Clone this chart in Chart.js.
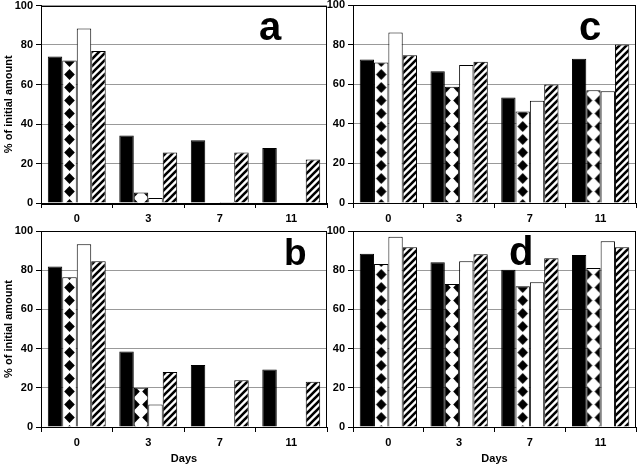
<!DOCTYPE html>
<html lang="en">
<head>
    <meta charset="UTF-8">
    <title>% of initial amount vs Days</title>
    <script src="https://cdn.jsdelivr.net/npm/chart.js@4.4.0/dist/chart.umd.min.js"></script>
    <style>
        body {
            margin: 0;
            width: 642px;
            height: 468px;
            background: #fff;
            position: relative;
            overflow: hidden;
            font-family: "Liberation Sans", Arial, sans-serif;
        }
        .panel {
            position: absolute;
        }
        .letter {
            position: absolute;
            font-weight: bold;
            line-height: 40px;
            color: #000;
        }
    </style>
</head>
<body>
    <div class="panel" style="left:0; top:-10px; width:335px; height:240px;"><canvas id="chartA"></canvas></div>
    <div class="panel" style="left:325px; top:-10px; width:317px; height:240px;"><canvas id="chartC"></canvas></div>
    <div class="panel" style="left:0; top:216px; width:335px; height:252px;"><canvas id="chartB"></canvas></div>
    <div class="panel" style="left:325px; top:216px; width:317px; height:252px;"><canvas id="chartD"></canvas></div>

    <div class="letter" style="left:259px; top:6px; font-size:40px;">a</div>
    <div class="letter" style="left:579px; top:6px; font-size:40px;">c</div>
    <div class="letter" style="left:284px; top:233px; font-size:37px;">b</div>
    <div class="letter" style="left:509px; top:231px; font-size:40px;">d</div>

    <script>
        // Datos (% of initial amount)
        const days = ['0', '3', '7', '11'];
        const yTicks = [0, 20, 40, 60, 80, 100];

        // panel a
        const aSolid = [74.2, 34.2, 31.8, 27.9];
        const aDiamond = [72.1, 5.3, 0, 0];
        const aOpen = [88.3, 2.5, 0.5, 0];
        const aHatch = [77.0, 25.6, 25.6, 22.0];

        // panel b
        const bSolid = [81.9, 38.5, 31.6, 29.4];
        const bDiamond = [76.4, 20.0, 0, 0];
        const bOpen = [93.3, 11.5, 0, 0];
        const bHatch = [84.6, 28.0, 23.8, 23.1];

        // panel c
        const cSolid = [72.5, 66.5, 53.3, 72.9];
        const cDiamond = [70.9, 58.7, 46.2, 57.0];
        const cOpen = [86.1, 69.7, 51.6, 56.5];
        const cHatch = [74.6, 71.3, 59.9, 80.0];

        // panel d
        const dSolid = [88.4, 84.1, 80.2, 87.7];
        const dDiamond = [83.1, 73.0, 71.8, 81.1];
        const dOpen = [97.1, 84.6, 73.8, 94.8];
        const dHatch = [91.7, 88.2, 86.1, 91.7];

        // Patrones de relleno
        function diamondPattern(shift, sx) {
            const w = 13, h = 13;
            const c = document.createElement('canvas');
            c.width = w; c.height = h;
            const g = c.getContext('2d');
            g.fillStyle = '#fff';
            g.fillRect(0, 0, w, h);
            g.fillStyle = '#000';
            const cx = w / 2, cy = h / 2;
            g.beginPath();
            g.moveTo(cx, cy - 5.4);
            g.lineTo(cx + 5.3, cy);
            g.lineTo(cx, cy + 5.4);
            g.lineTo(cx - 5.3, cy);
            g.closePath();
            g.fill();
            const p = g.createPattern(c, 'repeat');
            if (p.setTransform) p.setTransform(new DOMMatrix().translate(shift, 0).scale(sx, 1));
            return p;
        }

        function hatchPattern() {
            const s = 7;
            const c = document.createElement('canvas');
            c.width = s; c.height = s;
            const g = c.getContext('2d');
            g.fillStyle = '#fff';
            g.fillRect(0, 0, s, s);
            g.strokeStyle = '#000';
            g.lineWidth = 2.6;
            g.beginPath();
            g.moveTo(-1, s + 1); g.lineTo(s + 1, -1);
            g.moveTo(-1, 1); g.lineTo(1, -1);
            g.moveTo(s - 1, s + 1); g.lineTo(s + 1, s - 1);
            g.stroke();
            return g.createPattern(c, 'repeat');
        }

        const fontTicks = { family: '"Liberation Sans", Arial, sans-serif', size: 11, weight: 'bold' };

        // Marco del area del grafico
        const framePlugin = {
            id: 'frame',
            afterDraw(chart) {
                const a = chart.chartArea;
                const ctx = chart.ctx;
                ctx.save();
                ctx.strokeStyle = '#000';
                ctx.lineWidth = 1;
                ctx.strokeRect(Math.round(a.left) + 0.5, Math.round(a.top) + 0.5,
                    Math.round(a.right - a.left) - 1, Math.round(a.bottom - a.top));
                ctx.restore();
            }
        };

        function makeChart(id, solid, diamond, open, hatch, opt) {
            const ctx = document.getElementById(id).getContext('2d');
            const common = { borderColor: '#000', borderWidth: 1, categoryPercentage: 0.81, barPercentage: 1.0 };
            return new Chart(ctx, {
                type: 'bar',
                data: {
                    labels: days,
                    datasets: [
                        Object.assign({ label: 'solid', data: solid, backgroundColor: '#000' }, common),
                        Object.assign({ label: 'diamond', data: diamond, backgroundColor: diamondPattern(opt.shift, opt.sx) }, common),
                        Object.assign({ label: 'open', data: open, backgroundColor: '#fff' }, common),
                        Object.assign({ label: 'hatch', data: hatch, backgroundColor: hatchPattern() }, common)
                    ]
                },
                options: {
                    responsive: true,
                    maintainAspectRatio: false,
                    animation: false,
                    events: [],
                    layout: { padding: { left: 0, right: opt.padRight, top: opt.padTop, bottom: 0 } },
                    scales: {
                        x: {
                            offset: true,
                            grid: { drawOnChartArea: false, drawTicks: true, tickLength: 5, offset: true, tickColor: '#000' },
                            border: { color: '#000' },
                            ticks: { color: '#000', font: fontTicks, padding: 4, maxRotation: 0 },
                            title: {
                                display: opt.showDays,
                                text: 'Days',
                                color: '#000',
                                font: fontTicks,
                                padding: { top: 2, bottom: 2 }
                            },
                            afterFit(scale) { scale.height = opt.xHeight; }
                        },
                        y: {
                            min: 0,
                            max: 100,
                            afterBuildTicks(scale) { scale.ticks = yTicks.map(v => ({ value: v })); },
                            grid: { color: '#999', tickColor: '#000', tickLength: 5, drawTicks: true },
                            border: { color: '#000' },
                            ticks: { color: '#000', font: fontTicks, padding: 3 },
                            title: {
                                display: opt.showTitle,
                                text: '% of initial amount',
                                color: '#000',
                                font: fontTicks,
                                padding: { top: 2, bottom: 0 }
                            },
                            afterFit(scale) { scale.width = opt.yWidth; }
                        }
                    },
                    plugins: {
                        legend: { display: false },
                        tooltip: { enabled: false }
                    }
                },
                plugins: [framePlugin]
            });
        }

        makeChart('chartA', aSolid, aDiamond, aOpen, aHatch,
            { yWidth: 41, xHeight: 27, padTop: 15.5, padRight: 8, showTitle: true, showDays: false, shift: 63, sx: 1 });
        makeChart('chartC', cSolid, cDiamond, cOpen, cHatch,
            { yWidth: 28, xHeight: 27, padTop: 15, padRight: 6, showTitle: false, showDays: false, shift: 49.8, sx: 0.9893 });
        makeChart('chartB', bSolid, bDiamond, bOpen, bHatch,
            { yWidth: 41, xHeight: 41, padTop: 15, padRight: 8, showTitle: true, showDays: true, shift: 63, sx: 1 });
        makeChart('chartD', dSolid, dDiamond, dOpen, dHatch,
            { yWidth: 28, xHeight: 41, padTop: 15, padRight: 6, showTitle: false, showDays: true, shift: 49.8, sx: 0.9893 });
    </script>
</body>
</html>
